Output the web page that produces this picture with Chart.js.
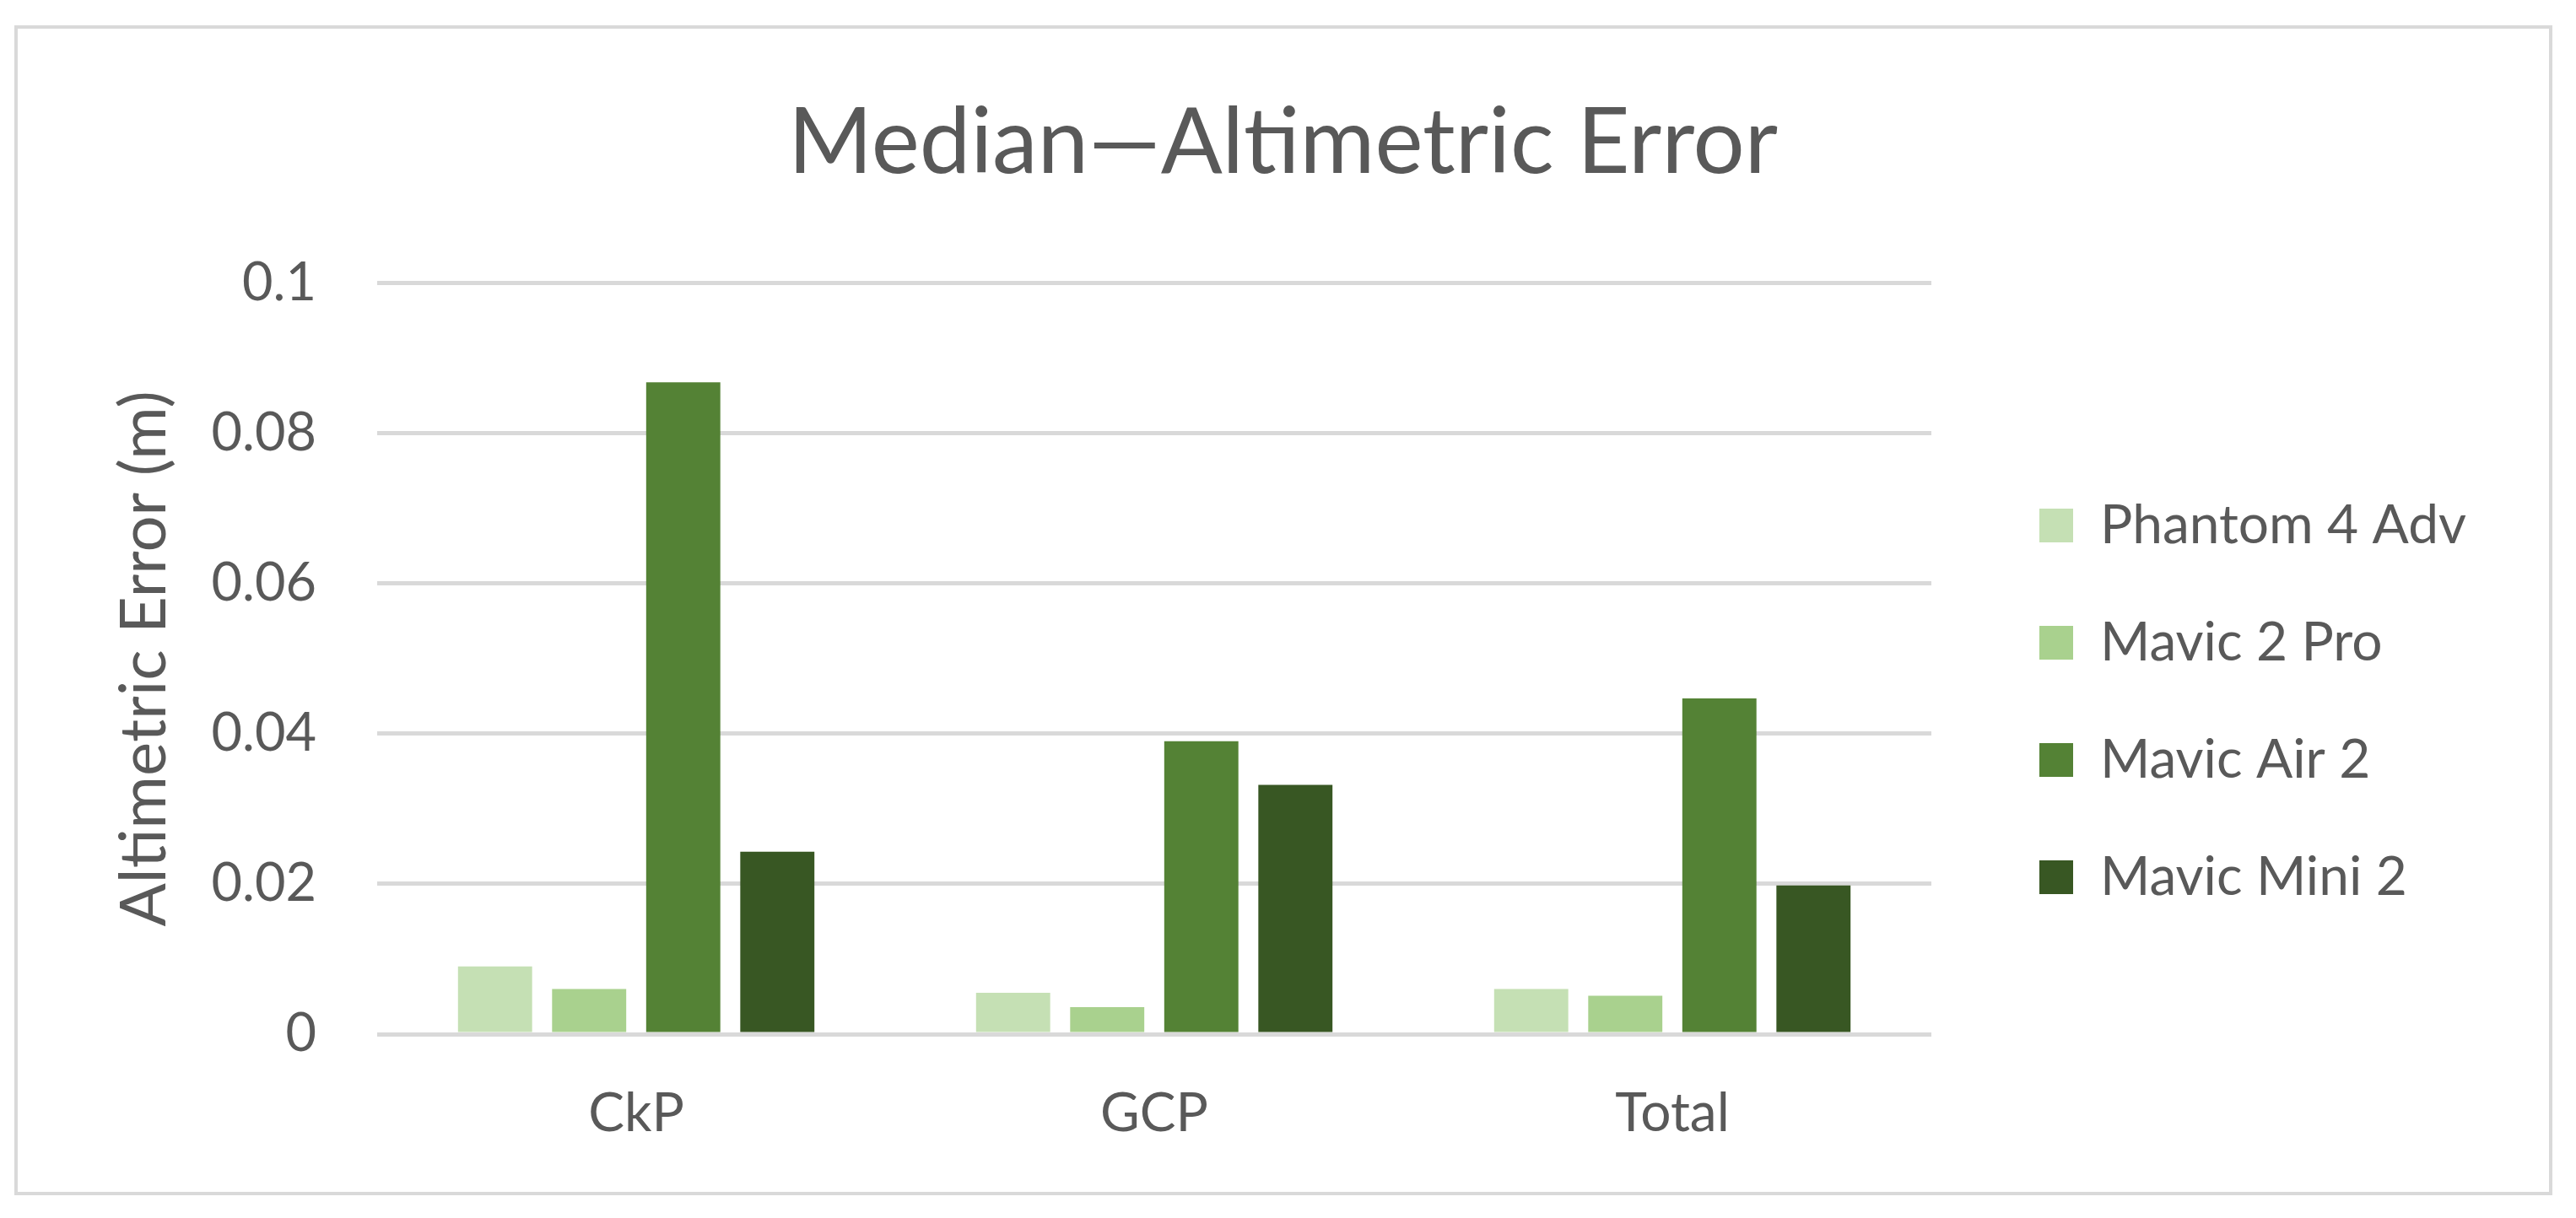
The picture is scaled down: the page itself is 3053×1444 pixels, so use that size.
<!DOCTYPE html>
<html>
<head>
<meta charset="utf-8">
<title>Median - Altimetric Error</title>
<script src="https://cdn.jsdelivr.net/npm/chart.js@4.4.1/dist/chart.umd.min.js"></script>
<style>
html,body{margin:0;padding:0;background:#fff;}
#chart{display:block;}
</style>
</head>
<body>
<canvas id="chart" width="3053" height="1444"></canvas>
<script>
/* ================= DATA ================= */

let categories = ["CkP","GCP","Total"];
let seriesNames = ["Phantom 4 Adv","Mavic 2 Pro","Mavic Air 2","Mavic Mini 2"];

let phantom4Adv = [0.0090,0.0055,0.0060];
let mavic2Pro = [0.0060,0.0036,0.0051];
let mavicAir2 = [0.0868,0.0390,0.0447];
let mavicMini2 = [0.0243,0.0332,0.0198];

let yTicks = [0,0.02,0.04,0.06,0.08,0.1];

let barColors = ["#c5e0b4","#a9d18e","#548235","#385723"];

/* ================= LAYOUT ================= */

const FONT = "Lato";
const TEXT = "#595959";
const GRID = "#d9d9d9";

const padLeft = 108;
const plotLeft = 447;

const legendFont = 64;
const legendPad = 75;
const legendBox = 40;

// measure widest legend label so the legend lands where the original one is
let mctx = document.createElement("canvas").getContext("2d");
mctx.font = legendFont + "px " + FONT;
let widest = 0;
seriesNames.forEach(n=>{
widest = Math.max(widest, mctx.measureText(n).width);
});
let legendWidth = legendPad + legendBox + legendFont/2 + widest + 10;
let legendLeft = 2342;
let padRight = Math.max(0, 3053 - legendLeft - legendWidth);

/* ================= BORDER ================= */

const frame = {
id:"frame",
beforeDraw(chart){
let c = chart.ctx;
c.save();
c.fillStyle = "#ffffff";
c.fillRect(0,0,chart.width,chart.height);
c.strokeStyle = GRID;
c.lineWidth = 4;
c.strokeRect(19,32,3004,1383);
c.restore();
}
};

/* ================= CHART ================= */

let series = [phantom4Adv,mavic2Pro,mavicAir2,mavicMini2];

new Chart(document.getElementById("chart"),{

type:"bar",

data:{
labels:categories,
datasets:series.map((s,i)=>({
label:seriesNames[i],
data:s,
backgroundColor:barColors[i],
borderWidth:0,
categoryPercentage:0.7265,
barPercentage:0.788
}))
},

options:{
responsive:false,
animation:false,
devicePixelRatio:1,
layout:{
padding:{left:padLeft,right:padRight,top:40,bottom:85}
},
plugins:{
title:{
display:true,
text:"Median\u2014Altimetric Error",
color:TEXT,
font:{family:FONT,size:108,weight:"normal"},
padding:{top:65,bottom:101}
},
legend:{
position:"right",
fullSize:false,
align:"center",
maxWidth:900,
title:{display:true,text:"",padding:{top:0,bottom:87}},
labels:{
color:TEXT,
font:{family:FONT,size:legendFont},
boxWidth:legendBox,
boxHeight:legendBox,
padding:legendPad
}
},
tooltip:{enabled:false}
},
scales:{
x:{
grid:{display:false,drawTicks:false},
border:{display:false},
ticks:{
color:TEXT,
font:{family:FONT,size:64},
padding:56
},
afterFit(scale){
scale.height = 133;
}
},
y:{
min:0,
max:0.1,
afterBuildTicks(scale){
scale.ticks = yTicks.map(v=>({value:v}));
},
afterFit(scale){
scale.width = plotLeft - padLeft;
},
grid:{color:GRID,lineWidth:5,drawTicks:false},
border:{display:false},
ticks:{
color:TEXT,
font:{family:FONT,size:63},
padding:72,
callback:v=>String(Math.round(v*100)/100)
},
title:{
display:true,
text:"Altimetric Error (m)",
color:TEXT,
font:{family:FONT,size:76},
padding:{top:18,bottom:0}
}
},
gap:{
type:"linear",
position:"right",
grid:{display:false},
border:{display:false},
ticks:{display:false},
afterFit(scale){
scale.width = 53;
}
}
}
},

plugins:[frame]

});
</script>
</body>
</html>
